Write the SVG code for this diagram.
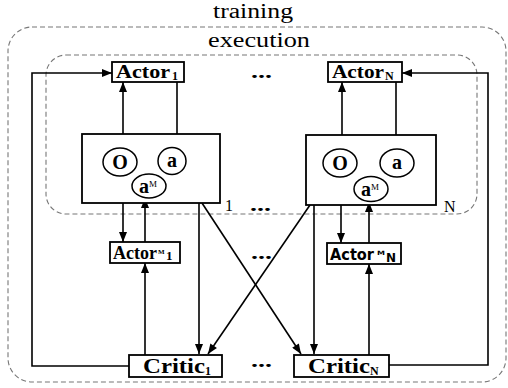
<svg xmlns="http://www.w3.org/2000/svg" width="508" height="388" viewBox="0 0 508 388">
<style>
.box{fill:#fff;stroke:#000;stroke-width:1.8}
.ell{fill:#fff;stroke:#000;stroke-width:1.5}
.dash{fill:none;stroke:#777;stroke-width:1.1;stroke-dasharray:5 3}
.ln{fill:none;stroke:#000;stroke-width:1.6}
.sb{font-family:"Liberation Serif","Times New Roman",serif;font-weight:bold;fill:#000}
.ss{font-family:"DejaVu Sans","Liberation Sans",sans-serif;font-weight:bold;fill:#000}
.sr{font-family:"Liberation Serif","Times New Roman",serif;fill:#000}
</style>
<defs>
<marker id="ah" viewBox="0 0 10 8" refX="10" refY="4" markerWidth="11" markerHeight="8" markerUnits="userSpaceOnUse" orient="auto"><path d="M0,0 L10,4 L0,8 Z" fill="#000"/></marker>
</defs>
<rect width="508" height="388" fill="#fff"/>
<g id="regions">
<rect class="dash" x="8" y="27" width="498" height="355" rx="24"/>
<rect class="dash" x="46" y="55" width="431" height="159" rx="20"/>
<text class="sr" x="213" y="18" font-size="20" textLength="80" lengthAdjust="spacingAndGlyphs">training</text>
<text class="sr" x="208" y="47" font-size="21" textLength="102" lengthAdjust="spacingAndGlyphs">execution</text>
</g>
<g id="connectors">
<polyline class="ln" points="130,366 32,366 32,73 112,73" marker-end="url(#ah)"/>
<polyline class="ln" points="389,365 488,365 488,73 402,73" marker-end="url(#ah)"/>
<line class="ln" x1="123" y1="148" x2="123" y2="82" marker-end="url(#ah)"/>
<line class="ln" x1="177" y1="82" x2="177" y2="148" marker-end="url(#ah)"/>
<line class="ln" x1="123" y1="176" x2="123" y2="242" marker-end="url(#ah)"/>
<line class="ln" x1="145" y1="242" x2="145" y2="198" marker-end="url(#ah)"/>
<line class="ln" x1="145" y1="355" x2="145" y2="263" marker-end="url(#ah)"/>
<line class="ln" x1="199" y1="203" x2="199" y2="354" marker-end="url(#ah)"/>
<line class="ln" x1="202" y1="203" x2="301" y2="354" marker-end="url(#ah)"/>
<line class="ln" x1="310" y1="205" x2="208" y2="354" marker-end="url(#ah)"/>
<line class="ln" x1="314" y1="205" x2="314" y2="354" marker-end="url(#ah)"/>
<line class="ln" x1="342" y1="149" x2="342" y2="82" marker-end="url(#ah)"/>
<line class="ln" x1="396" y1="82" x2="396" y2="149" marker-end="url(#ah)"/>
<line class="ln" x1="341" y1="177" x2="341" y2="243" marker-end="url(#ah)"/>
<line class="ln" x1="369" y1="243" x2="369" y2="202" marker-end="url(#ah)"/>
<line class="ln" x1="369" y1="355" x2="369" y2="264" marker-end="url(#ah)"/>
</g>
<g id="actor1">
<rect class="box" x="112" y="62" width="72" height="20"/>
<text class="sb" x="116" y="78" font-size="18" textLength="54" lengthAdjust="spacingAndGlyphs">Actor</text>
<text class="sb" x="172" y="80" font-size="12">1</text>
</g>
<g id="actorN">
<rect class="box" x="328" y="62" width="74" height="20"/>
<text class="sb" x="332" y="78" font-size="18" textLength="52" lengthAdjust="spacingAndGlyphs">Actor</text>
<text class="sb" x="385" y="80" font-size="12">N</text>
</g>
<g id="agent1">
<rect class="box" x="82" y="134" width="138" height="69"/>
<ellipse class="ell" cx="120" cy="162" rx="17" ry="14"/>
<text class="sb" x="120" y="169" font-size="20" text-anchor="middle">O</text>
<ellipse class="ell" cx="172" cy="161" rx="14" ry="13.5"/>
<text class="sb" x="172" y="167" font-size="20" text-anchor="middle">a</text>
<ellipse class="ell" cx="149" cy="186" rx="17" ry="12"/>
<text class="sb" x="139" y="193" font-size="20">a</text>
<text class="sr" x="149" y="187" font-size="9">M</text>
<text class="sr" x="225" y="211" font-size="16">1</text>
</g>
<g id="agentN">
<rect class="box" x="306" y="135" width="130" height="70"/>
<ellipse class="ell" cx="340" cy="163" rx="17" ry="14"/>
<text class="sb" x="340" y="170" font-size="20" text-anchor="middle">O</text>
<ellipse class="ell" cx="397" cy="163" rx="17" ry="14"/>
<text class="sb" x="397" y="169" font-size="20" text-anchor="middle">a</text>
<ellipse class="ell" cx="371" cy="189" rx="17" ry="12.5"/>
<text class="sb" x="361" y="196" font-size="20">a</text>
<text class="sr" x="371" y="190" font-size="9">M</text>
<text class="sr" x="444" y="212" font-size="16">N</text>
</g>
<g id="actorM1">
<rect class="box" x="110" y="242" width="70" height="21"/>
<text class="sb" x="113" y="259" font-size="18" textLength="44" lengthAdjust="spacingAndGlyphs">Actor</text>
<text class="sb" x="158" y="254" font-size="7">M</text>
<text class="sb" x="166" y="260" font-size="13">1</text>
</g>
<g id="actorMN">
<rect class="box" x="327" y="243" width="74" height="21"/>
<text class="ss" x="330" y="260" font-size="16" textLength="44" lengthAdjust="spacingAndGlyphs">Actor</text>
<text class="ss" x="377" y="255" font-size="6" textLength="8" lengthAdjust="spacingAndGlyphs">M</text>
<text class="ss" x="386" y="262" font-size="12">N</text>
</g>
<g id="critic1">
<rect class="box" x="129" y="355" width="93" height="22"/>
<text class="sb" x="143" y="373" font-size="20" textLength="62" lengthAdjust="spacingAndGlyphs">Critic</text>
<text class="sb" x="205" y="375" font-size="12">1</text>
</g>
<g id="criticN">
<rect class="box" x="294" y="355" width="95" height="22"/>
<text class="sb" x="308" y="373" font-size="20" textLength="62" lengthAdjust="spacingAndGlyphs">Critic</text>
<text class="sb" x="370" y="375" font-size="12">N</text>
</g>
<g id="dots">
<text class="sb" x="251" y="78" font-size="18" textLength="21" lengthAdjust="spacingAndGlyphs">...</text>
<text class="sb" x="250" y="211" font-size="18" textLength="21" lengthAdjust="spacingAndGlyphs">...</text>
<text class="sb" x="251" y="259" font-size="18" textLength="21" lengthAdjust="spacingAndGlyphs">...</text>
<text class="sb" x="251" y="367" font-size="18" textLength="21" lengthAdjust="spacingAndGlyphs">...</text>
</g>
</svg>
